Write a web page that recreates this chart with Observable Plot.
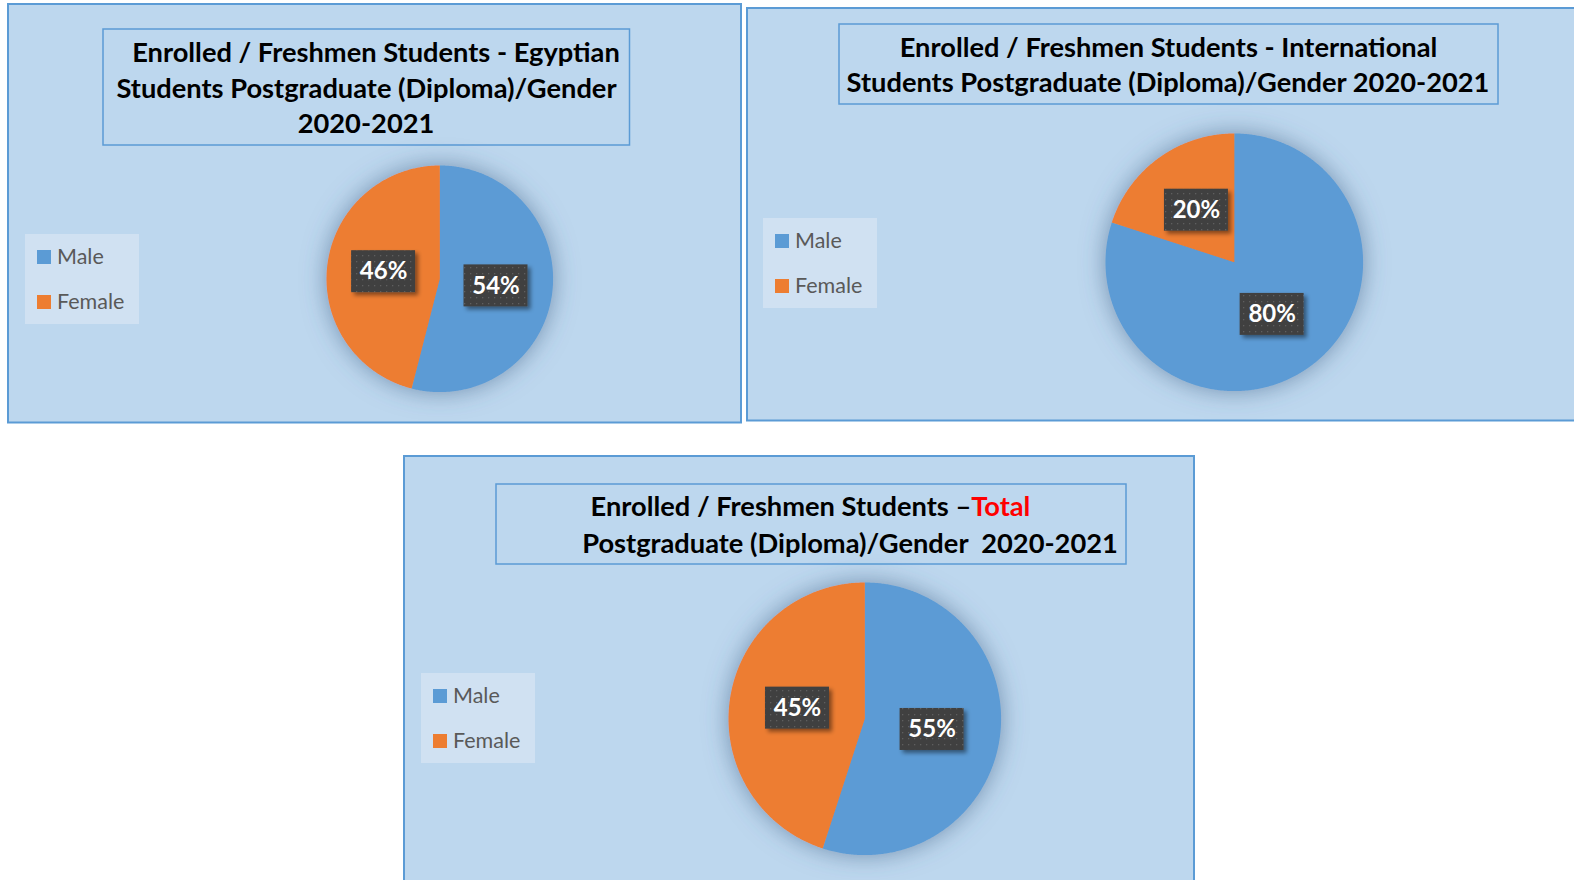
<!DOCTYPE html>
<html>
<head>
<meta charset="utf-8">
<script src="https://cdn.jsdelivr.net/npm/d3@7"></script>
<script src="https://cdn.jsdelivr.net/npm/@observablehq/plot@0.6"></script>
<style>
  html, body { margin: 0; padding: 0; background: #ffffff; }
  body { width: 1574px; height: 880px; overflow: hidden; position: relative; font-family: Lato, "Open Sans", sans-serif; }
  .pie { position: absolute; }
</style>
</head>
<body>
<script>
// ---------------- data ----------------
const genders = ["Male", "Female"];
const genderColors = ["#5B9BD5", "#ED7D31"];
const egyptianPct = [54, 46];
const internationalPct = [80, 20];
const totalPct = [55, 45];

const titleEgyptian = [
  [["Enrolled / Freshmen Students - Egyptian", false]],
  [["Students Postgraduate (Diploma)/Gender", false]],
  [["2020-2021", false]]
];
const titleInternational = [
  [["Enrolled / Freshmen Students - International", false]],
  [["Students Postgraduate (Diploma)/Gender 2020-2021", false]]
];
const titleTotal = [
  [["Enrolled / Freshmen Students \u2013", false], ["Total", true]],
  [["Postgraduate (Diploma)/Gender\u00a0 2020-2021", false]]
];

// ---------------- layout (style only) ----------------
const layout = [
  {values: egyptianPct, title: titleEgyptian,
   panel: [8, 4, 741, 422.5], tbox: [103, 29, 629.5, 145],
   lines: [[376, 62], [366.5, 98], [366, 133]], legend: [25, 234], pie: [439.3, 278.5, 113.3]},
  {values: internationalPct, title: titleInternational,
   panel: [747, 8, 1590, 420.5], tbox: [839, 24, 1498, 104],
   lines: [[1168.5, 57], [1168, 92]], legend: [763, 218], pie: [1233.8, 262.2, 128.8]},
  {values: totalPct, title: titleTotal,
   panel: [404, 456, 1194, 900], tbox: [496, 484, 1126, 564],
   lines: [[810.5, 516], [850, 553]], legend: [421, 673], pie: [864.7, 718, 136.3]}
];

const W = 1574, H = 880;
const bg = d3.select("body").append("svg")
  .attr("width", W).attr("height", H)
  .style("position", "absolute").style("left", "0px").style("top", "0px");

// panels, title boxes, legends
const titleTexts = [];
layout.forEach((L, i) => {
  const [px1, py1, px2, py2] = L.panel;
  bg.append("rect").attr("x", px1).attr("y", py1).attr("width", px2 - px1).attr("height", py2 - py1)
    .attr("fill", "#BDD7EE").attr("stroke", "#5B9BD5").attr("stroke-width", 2);
  const [tx1, ty1, tx2, ty2] = L.tbox;
  bg.append("rect").attr("x", tx1).attr("y", ty1).attr("width", tx2 - tx1).attr("height", ty2 - ty1)
    .attr("fill", "none").attr("stroke", "#5B9BD5").attr("stroke-width", 1.5);
  L.title.forEach((segs, j) => {
    const [lx, ly] = L.lines[j];
    const t = bg.append("text").attr("x", lx).attr("y", ly).attr("text-anchor", "middle")
      .attr("font-family", "Lato, sans-serif").attr("font-weight", 700).attr("font-size", 26)
      .attr("fill", "#000").style("white-space", "pre");
    segs.forEach(([s, red]) => t.append("tspan").text(s).attr("fill", red ? "#FF0000" : "#000"));
    titleTexts.push(t);
  });
  // legend
  const [gx, gy] = L.legend;
  const lg = bg.append("g");
  lg.append("rect").attr("x", gx).attr("y", gy).attr("width", 114).attr("height", 90).attr("fill", "#D0E1F2");
  genders.forEach((g, k) => {
    lg.append("rect").attr("x", gx + 12).attr("y", gy + 16 + k * 45).attr("width", 14).attr("height", 14)
      .attr("fill", genderColors[k]);
    lg.append("text").attr("x", gx + 32).attr("y", gy + 30 + k * 45)
      .attr("font-family", "Lato, sans-serif").attr("font-size", 21.5).attr("fill", "#595959").text(g);
  });
});

// fit title font size to the reference width of the longest line
{
  const ref = titleTexts[4]; // "Students Postgraduate (Diploma)/Gender 2020-2021"
  const w = ref.node().getComputedTextLength();
  const fs = 26 * 643 / w;
  titleTexts.forEach(t => t.attr("font-size", fs));
}

// ---------------- pies with Observable Plot ----------------
const ns = "http://www.w3.org/2000/svg";
layout.forEach((L, i) => {
  const [cx, cy, R] = L.pie;
  const pad = 50;
  const size = 2 * R + 2 * pad;
  const arcs = d3.pie().sort(null).value(d => d)(L.values);
  const wedges = [];
  arcs.forEach((a, k) => {
    const g = genders[k];
    wedges.push({g, x: 0, y: 0});
    const n = Math.max(2, Math.ceil((a.endAngle - a.startAngle) / (Math.PI / 360)));
    for (let s = 0; s <= n; s++) {
      const t = a.startAngle + (a.endAngle - a.startAngle) * s / n;
      wedges.push({g, x: Math.sin(t), y: Math.cos(t)});
    }
  });
  const labels = arcs.map((a, k) => {
    const m = (a.startAngle + a.endAngle) / 2;
    return {g: genders[k], x: 0.5 * Math.sin(m), y: 0.5 * Math.cos(m), text: L.values[k] + "%"};
  });
  const hw = 32 / R, hh = 21 / R;
  const id = "p" + i;
  const chart = Plot.plot({
    width: size, height: size, margin: pad,
    x: {domain: [-1, 1], axis: null},
    y: {domain: [-1, 1], axis: null},
    color: {domain: genders, range: genderColors},
    style: "background: transparent; overflow: visible; max-width: none;",
    marks: [
      Plot.line(wedges, {x: "x", y: "y", z: "g", fill: "g", stroke: "none", curve: "linear-closed"}),
      Plot.rect(labels, {x1: d => d.x - hw, x2: d => d.x + hw, y1: d => d.y - hh, y2: d => d.y + hh,
                          fill: `url(#dots-${id})`}),
      Plot.text(labels, {x: "x", y: "y", text: "text", fill: "white", fontSize: 24, fontWeight: "bold",
                          fontFamily: "Lato, sans-serif"})
    ]
  });
  const defs = document.createElementNS(ns, "defs");
  defs.innerHTML = `
    <filter id="pshadow-${id}" x="-40%" y="-40%" width="180%" height="180%">
      <feDropShadow dx="0" dy="0" stdDeviation="12" flood-color="#3F6185" flood-opacity="0.6"/>
    </filter>
    <filter id="bshadow-${id}" x="-30%" y="-30%" width="160%" height="160%">
      <feDropShadow dx="3" dy="3" stdDeviation="2" flood-color="#000" flood-opacity="0.45"/>
    </filter>
    <pattern id="dots-${id}" width="6" height="6" patternUnits="userSpaceOnUse">
      <rect width="6" height="6" fill="#404040"/>
      <rect x="2" y="2" width="1.3" height="1.3" fill="#5F5F5F"/>
    </pattern>`;
  chart.insertBefore(defs, chart.firstChild);
  const lineG = chart.querySelector('g[aria-label="line"]');
  if (lineG) lineG.setAttribute("filter", `url(#pshadow-${id})`);
  const rectG = chart.querySelector('g[aria-label="rect"]');
  if (rectG) rectG.setAttribute("filter", `url(#bshadow-${id})`);
  chart.classList.add("pie");
  chart.style.position = "absolute";
  chart.style.left = (cx - R - pad) + "px";
  chart.style.top = (cy - R - pad) + "px";
  document.body.appendChild(chart);
});
</script>
</body>
</html>
